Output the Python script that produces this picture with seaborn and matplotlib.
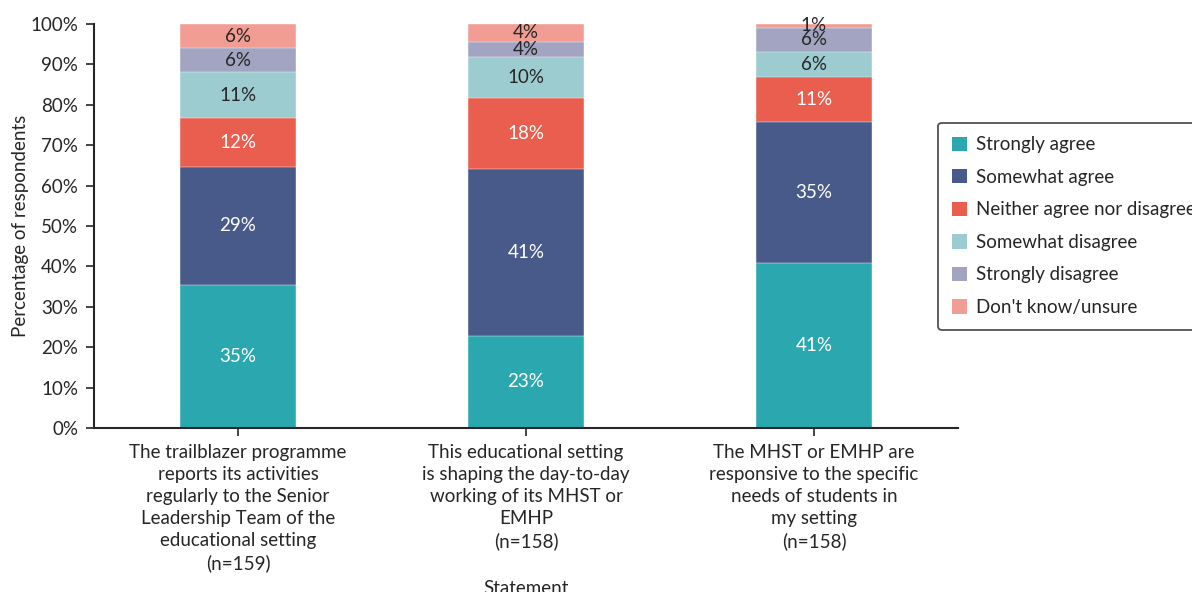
import matplotlib
matplotlib.use("Agg")
import matplotlib.pyplot as plt
from matplotlib.patches import Patch
import numpy as np
import pandas as pd
import seaborn as sns

statements = [
    "The trailblazer programme\nreports its activities\nregularly to the Senior\nLeadership Team of the\neducational setting\n(n=159)",
    "This educational setting\nis shaping the day-to-day\nworking of its MHST or\nEMHP\n(n=158)",
    "The MHST or EMHP are\nresponsive to the specific\nneeds of students in\nmy setting\n(n=158)",
]
responses = [
    "Strongly agree",
    "Somewhat agree",
    "Neither agree nor disagree",
    "Somewhat disagree",
    "Strongly disagree",
    "Don't know/unsure",
]
strongly_agree = [35.4, 22.8, 40.8]
somewhat_agree = [29.3, 41.3, 34.9]
neither = [12.1, 17.7, 11.1]
somewhat_disagree = [11.2, 10.0, 6.2]
strongly_disagree = [6.0, 3.8, 6.1]
dont_know = [6.0, 4.4, 0.9]

colors = ["#2BA8AF", "#485A8A", "#EA5E4F", "#9CCBD0", "#A2A4C1", "#F29D93"]
label_colors = ["white", "white", "white", "#262626", "#262626", "#262626"]

series = [strongly_agree, somewhat_agree, neither, somewhat_disagree,
          strongly_disagree, dont_know]
values = np.array(series)
cumulative = values.cumsum(axis=0)

df = pd.DataFrame({
    "statement": np.repeat(statements, len(responses)),
    "response": responses * len(statements),
    "value": values.T.ravel(),
    "top": cumulative.T.ravel(),
})

sns.set_theme(style="white")
plt.rcParams["font.family"] = ["Lato", "DejaVu Sans"]
text_color = "#262626"
fs = 13.5

fig = plt.figure(figsize=(11.92, 5.92), dpi=100)
ax = fig.add_axes([94 / 1192, 1 - 428 / 592, 864 / 1192, 404 / 592])

# Stacked bars: draw cumulative totals from the top segment down
for i in range(len(responses) - 1, -1, -1):
    sub = df[df["response"] == responses[i]]
    sns.barplot(data=sub, x="statement", y="top", order=statements,
                color=colors[i], saturation=1, width=0.4, ax=ax,
                edgecolor="white", linewidth=0.3, errorbar=None)

# Segment labels
for j, st in enumerate(statements):
    for i in range(len(responses)):
        v = values[i, j]
        mid = cumulative[i, j] - v / 2
        ax.text(j, mid, f"{v:.0f}%", ha="center", va="center",
                fontsize=fs, color=label_colors[i])

ax.set_xlim(-0.5, 2.5)
ax.set_ylim(0, 100)
ax.set_yticks(np.arange(0, 101, 10))
ax.set_yticklabels([f"{t}%" for t in range(0, 101, 10)])
ax.tick_params(axis="both", which="major", labelsize=fs, colors=text_color,
               length=5.5, width=1.2, direction="out", left=True, bottom=True)
ax.tick_params(axis="x", pad=6)
ax.tick_params(axis="y", pad=6)
for lab in ax.get_xticklabels():
    lab.set_linespacing(1.355)

for side in ["top", "right"]:
    ax.spines[side].set_visible(False)
for side in ["left", "bottom"]:
    ax.spines[side].set_color("#262626")
    ax.spines[side].set_linewidth(1.5)

ax.set_ylabel("Percentage of respondents", fontsize=fs, color=text_color,
              labelpad=1)
ax.set_xlabel("Statement", fontsize=fs, color=text_color, labelpad=6)

handles = [Patch(facecolor=c, edgecolor="none") for c in colors]
leg = fig.legend(handles, responses, loc="upper left",
                 bbox_to_anchor=(938 / 1192, 1 - 122.7 / 592),
                 frameon=True, fancybox=True, fontsize=fs,
                 handlelength=0.8, handleheight=0.8, handletextpad=0.5,
                 labelspacing=0.83, borderpad=0.72, borderaxespad=0)
frame = leg.get_frame()
frame.set_edgecolor("#262626")
frame.set_linewidth(1.3)
for t in leg.get_texts():
    t.set_color(text_color)

fig.savefig("out.png", dpi=100)
